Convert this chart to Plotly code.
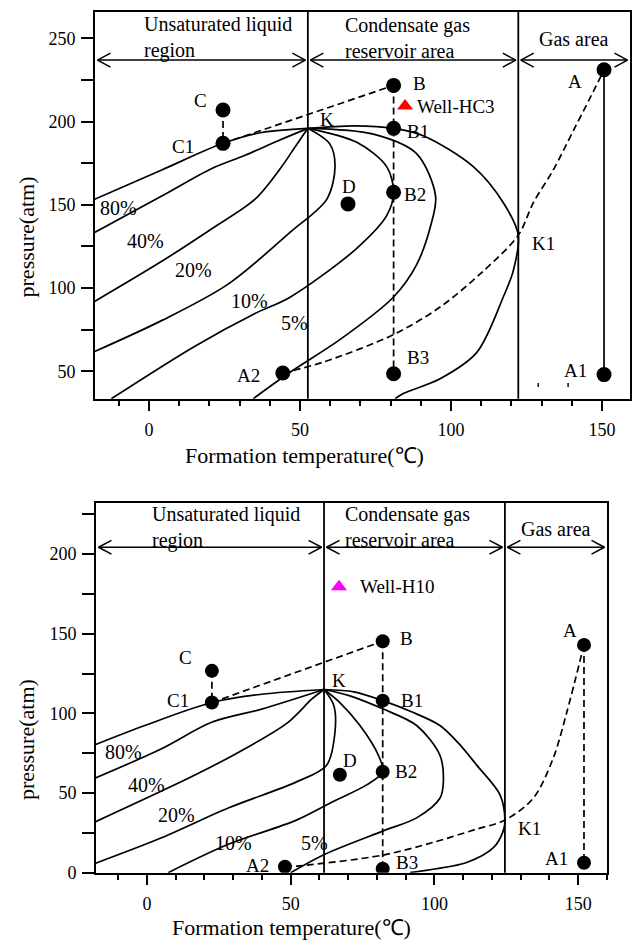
import plotly.graph_objects as go

W, H = 633, 946
SERIF = "Liberation Serif, 'Times New Roman', serif"
INK = "#000000"

# ---------------- upper diagram (Well-HC3) ----------------
TOP_T_RANGE = [-17.9, 159.3]
TOP_P_RANGE = [33.5, 266.0]
TOP_K = (52.6, 196.0)
TOP_K1 = (122.3, 131.8)

# iso-volume lines of the phase envelope: (temperature ℃, pressure atm)
TOP_Q100 = [(-18.5, 153.0), (4.2, 171.0), (24.5, 187.0), (37.3, 193.5), (52.6, 196.0)]
TOP_Q80 = [(-18.5, 133.0), (4.2, 155.3), (20.8, 171.9), (31.8, 179.8), (42.8, 188.6), (52.6, 196.0)]
TOP_Q40 = [(-18.5, 91.5), (4.2, 116.1), (20.8, 135.7), (35.1, 153.4), (43.9, 172.9), (48.3, 184.7), (52.6, 196.0)]
TOP_Q20 = [(-18.5, 61.5), (4.3, 80.6), (26.2, 102.4), (46.7, 133.5), (58.9, 153.5), (61.6, 173.0),
           (59.9, 186.5), (52.6, 196.0)]
TOP_Q10 = [(-12.5, 33.5), (15.2, 65.1), (35.1, 84.7), (46.7, 94.5), (68.8, 123.9), (78.7, 143.5),
           (81.0, 157.6), (78.7, 173.0), (68.8, 187.6), (52.6, 196.0)]
TOP_Q5 = [(34.5, 33.5), (46.7, 49.4), (63.2, 69.0), (80.9, 94.5), (88.6, 114.0), (93.3, 137.6),
          (94.9, 155.3), (88.6, 180.8), (74.3, 192.5), (52.6, 196.0)]
TOP_DEW = [(52.6, 196.0), (68.0, 197.5), (81.0, 196.0), (90.8, 191.6), (107.4, 173.0), (117.3, 151.4),
           (122.3, 131.8), (120.6, 110.2), (117.3, 94.5), (108.5, 61.2), (96.4, 45.5), (84.2, 36.6),
           (81.5, 33.5)]
TOP_PATH = [(44.3, 49.0), (57.7, 55.5), (80.9, 72.0), (96.4, 88.6), (110.7, 110.2), (122.3, 131.8),
            (127.3, 151.4), (133.9, 171.0), (140.5, 194.5), (146.0, 214.0), (150.7, 231.2)]
TOP_POINTS = {"A": (150.7, 231.2), "A1": (150.7, 48.0), "B": (81.0, 221.8), "B1": (81.0, 196.0),
              "B2": (81.0, 157.6), "B3": (81.0, 48.5), "C": (24.5, 207.0), "C1": (24.5, 187.0),
              "D": (65.9, 150.6), "A2": (44.3, 49.0)}
TOP_WELL = ("Well-HC3", 84.8, 209.4)
TOP_STUBS = [(128.9, 40.6, 42.9), (138.8, 40.6, 42.9)]
TOP_ARROW_P = 237.0
TOP_PCT = [("80%", -10.2, 148.4), ("40%", -1.3, 128.2), ("20%", 14.7, 110.6),
           ("10%", 33.4, 92.5), ("5%", 48.3, 78.8)]

# ---------------- lower diagram (Well-H10) ----------------
BOT_T_RANGE = [-17.7, 160.0]
BOT_P_RANGE = [0.0, 232.3]
BOT_K = (61.6, 115.0)
BOT_K1 = (124.5, 33.0)

BOT_Q100 = [(-18.5, 80.0), (-0.7, 92.4), (22.6, 106.8), (39.9, 112.0), (61.6, 115.0)]
BOT_Q80 = [(-18.5, 59.0), (5.1, 77.8), (22.5, 94.4), (39.9, 102.7), (61.6, 115.0)]
BOT_Q40 = [(-18.5, 31.5), (16.7, 61.3), (34.1, 77.8), (49.1, 94.4), (57.3, 108.9), (61.6, 115.0)]
BOT_Q20 = [(-18.5, 5.5), (5.1, 21.9), (28.3, 40.6), (52.0, 57.0), (62.5, 67.5), (65.4, 88.2),
           (65.0, 105.0), (61.6, 115.0)]
BOT_Q10 = [(7.4, 0.0), (28.3, 17.8), (52.0, 33.0), (64.8, 44.7), (76.4, 55.1), (82.0, 63.4),
           (80.5, 73.7), (74.1, 92.4), (67.1, 106.8), (61.6, 115.0)]
BOT_Q5 = [(50.0, 0.0), (61.9, 11.6), (82.0, 26.1), (93.8, 34.4), (101.9, 46.7), (103.1, 57.1),
          (101.9, 73.7), (93.8, 92.4), (82.2, 102.7), (70.6, 111.0), (61.6, 115.0)]
BOT_DEW = [(61.6, 115.0), (72.0, 113.5), (82.0, 108.0), (92.0, 101.0), (101.9, 92.4), (108.5, 81.0),
           (114.7, 67.5), (122.8, 48.9), (124.5, 33.0), (123.9, 26.1), (120.5, 15.7), (111.2, 6.4),
           (100.0, 2.3), (91.5, 0.0)]
BOT_PATH = [(48.0, 3.7), (53.2, 4.3), (82.0, 11.0), (99.5, 19.0), (114.0, 27.0), (124.5, 33.0),
            (134.3, 46.6), (141.2, 71.4), (146.0, 100.6), (152.0, 143.0)]
BOT_POINTS = {"A": (152.0, 143.0), "A1": (152.0, 6.2), "B": (82.0, 145.3), "B1": (82.0, 108.0),
              "B2": (82.0, 63.4), "B3": (82.0, 2.5), "C": (22.6, 126.7), "C1": (22.6, 106.8),
              "D": (67.1, 61.5), "A2": (48.0, 3.7)}
BOT_WELL = ("Well-H10", 66.8, 179.5)
BOT_ARROW_P = 204.3
BOT_PCT = [("80%", -8.2, 75.8), ("40%", -0.1, 55.1), ("20%", 10.3, 36.4),
           ("10%", 30.0, 18.8), ("5%", 58.4, 18.8)]

REGION_TEXT = ["Unsaturated liquid<br>region", "Condensate gas<br>reservoir area", "Gas area"]

# label placement (pixel offsets from each point)
TOP_SHIFT = {"A": (-29, -12), "A1": (-29, 4), "B": (26, 2), "B1": (24, -3), "B2": (21, -2),
             "B3": (24, 16), "C": (-23, 10), "C1": (-40, -3), "D": (1, 17), "A2": (-34, -3),
             "K": (19, 9), "K1": (25, -8)}
BOT_SHIFT = {"A": (-14, 14), "A1": (-27, 4), "B": (24, 3), "B1": (29, 0), "B2": (23, 0),
             "B3": (24, 6), "C": (-26, 13), "C1": (-34, 2), "D": (10, 14), "A2": (-27, 1),
             "K": (15, 9), "K1": (25, -8)}
WELL_SHIFT = {"Well-HC3": 10, "Well-H10": 19}

TOP_DOM_X = [95 / W, 630 / W]
TOP_DOM_Y = [1 - 403 / H, 1 - 12 / H]
BOT_DOM_X = [96 / W, 607 / W]
BOT_DOM_Y = [1 - 882 / H, 1 - 508 / H]

LW = 1.7
DASH = "7px,4px"
TXT = 20

fig = go.Figure()
annotations = []
shapes = []


def xy(pairs):
    return [p[0] for p in pairs], [p[1] for p in pairs]


def add_panel(ax, ay, dom_x, dom_y, t_rng, p_rng, k, k1, curves, dew, path, points, well, well_color,
              arrow_p, pcts, shifts, region_pos, a_line_dash, dot_size, stubs=()):
    xref, yref = ax, ay
    # scale factors, pixels -> data units
    ux = (t_rng[1] - t_rng[0]) / ((dom_x[1] - dom_x[0]) * W)
    uy = (p_rng[1] - p_rng[0]) / ((dom_y[1] - dom_y[0]) * H)

    def line(pairs, dash="solid", spline=True):
        xs, ys = xy(pairs)
        fig.add_trace(go.Scatter(
            x=xs, y=ys, mode="lines", xaxis=xref, yaxis=yref, hoverinfo="skip", showlegend=False,
            line=dict(color=INK, width=LW, dash=dash, shape="spline" if spline else "linear",
                      smoothing=0.9)))

    for c in curves:
        line(c)
    line(dew)
    line(path, dash=DASH)

    pa, pa1, pb, pb3 = points["A"], points["A1"], points["B"], points["B3"]
    line([points["C"], points["C1"]], dash=DASH, spline=False)
    line([points["C1"], pb], dash=DASH, spline=False)
    line([pb, pb3], dash=DASH, spline=False)
    line([pa, pa1], dash=a_line_dash, spline=False)
    for t, p0, p1 in stubs:
        fig.add_trace(go.Scatter(x=[t, t], y=[p0, p1], mode="lines", xaxis=xref, yaxis=yref,
                                 hoverinfo="skip", showlegend=False,
                                 line=dict(color=INK, width=1.4)))

    # region dividers at the critical point and the cricondentherm
    for tv in (k[0], k1[0]):
        shapes.append(dict(type="line", xref=xref, yref=f"{yref} domain", x0=tv, x1=tv, y0=0, y1=1,
                           line=dict(color=INK, width=1.8)))

    # double-headed arrows spanning each region
    bounds = [t_rng[0], k[0], k1[0], t_rng[1]]
    ax_x, ax_y = [], []
    gap = 2.5 * ux
    hl, hw = 13 * ux, 7 * uy
    for a, b in zip(bounds[:-1], bounds[1:]):
        l, r = a + gap, b - gap
        ax_x += [l, r, None, l + hl, l, l + hl, None, r - hl, r, r - hl, None]
        ax_y += [arrow_p, arrow_p, None, arrow_p + hw, arrow_p, arrow_p - hw, None,
                 arrow_p + hw, arrow_p, arrow_p - hw, None]
    fig.add_trace(go.Scatter(x=ax_x, y=ax_y, mode="lines", xaxis=xref, yaxis=yref, hoverinfo="skip",
                             showlegend=False, line=dict(color=INK, width=1.5)))

    # region captions
    for txt, (tx, ty, anchor) in zip(REGION_TEXT, region_pos):
        annotations.append(dict(text=txt, x=tx, y=ty, xref=xref, yref=yref, showarrow=False,
                                xanchor=anchor, yanchor="middle", align="left",
                                font=dict(family=SERIF, size=TXT, color=INK)))

    # state points
    names = list(points.keys())
    fig.add_trace(go.Scatter(
        x=[points[n][0] for n in names], y=[points[n][1] for n in names], mode="markers",
        xaxis=xref, yaxis=yref, hoverinfo="skip", showlegend=False,
        marker=dict(color=INK, size=dot_size, symbol="circle")))
    labelled = dict(points)
    labelled["K"] = k
    labelled["K1"] = k1
    for n, (dx, dy) in shifts.items():
        annotations.append(dict(text=n, x=labelled[n][0], y=labelled[n][1], xref=xref, yref=yref,
                                showarrow=False, xshift=dx, yshift=dy, xanchor="center",
                                yanchor="middle", font=dict(family=SERIF, size=19, color=INK)))

    # well marker
    wname, wt, wp = well
    fig.add_trace(go.Scatter(x=[wt], y=[wp], mode="markers", xaxis=xref, yaxis=yref,
                             hoverinfo="skip", showlegend=False,
                             marker=dict(color=well_color, size=14, symbol="triangle-up",
                                         line=dict(width=0))))
    annotations.append(dict(text=wname, x=wt, y=wp, xref=xref, yref=yref, showarrow=False,
                            xshift=WELL_SHIFT[wname], xanchor="left", yanchor="middle",
                            font=dict(family=SERIF, size=19, color=INK)))

    for txt, tx, ty in pcts:
        annotations.append(dict(text=txt, x=tx, y=ty, xref=xref, yref=yref, showarrow=False,
                                xanchor="center", yanchor="middle",
                                font=dict(family=SERIF, size=TXT, color=INK)))


add_panel("x", "y", TOP_DOM_X, TOP_DOM_Y, TOP_T_RANGE, TOP_P_RANGE, TOP_K, TOP_K1,
          [TOP_Q100, TOP_Q80, TOP_Q40, TOP_Q20, TOP_Q10, TOP_Q5], TOP_DEW, TOP_PATH, TOP_POINTS,
          TOP_WELL, "#ff0000", TOP_ARROW_P, TOP_PCT, TOP_SHIFT,
          [(-2.3, 250.6, "left"), (64.2, 250.0, "left"),
           ((TOP_K1[0] + TOP_T_RANGE[1]) / 2, 249.4, "center")],
          "solid", 15, TOP_STUBS)

add_panel("x2", "y2", BOT_DOM_X, BOT_DOM_Y, BOT_T_RANGE, BOT_P_RANGE, BOT_K, BOT_K1,
          [BOT_Q100, BOT_Q80, BOT_Q40, BOT_Q20, BOT_Q10, BOT_Q5], BOT_DEW, BOT_PATH, BOT_POINTS,
          BOT_WELL, "#ff00ff", BOT_ARROW_P, BOT_PCT, BOT_SHIFT,
          [(1.0, 217.0, "left"), (68.2, 216.8, "left"),
           ((BOT_K1[0] + BOT_T_RANGE[1]) / 2, 215.5, "center")],
          DASH, 14)

# axis titles
for ty, tx_title, ty_title in ((1 - 460 / H, 304 / W, 1 - 240 / H), (1 - 937 / H, 291 / W, 1 - 748 / H)):
    annotations.append(dict(text="Formation temperature(℃)", x=tx_title, y=ty, xref="paper",
                            yref="paper", showarrow=False, xanchor="center", yanchor="middle",
                            font=dict(family=SERIF, size=22, color=INK)))
    annotations.append(dict(text="pressure(atm)", x=26 / W, y=ty_title, xref="paper", yref="paper",
                            showarrow=False, textangle=-90, xanchor="center", yanchor="middle",
                            font=dict(family=SERIF, size=22, color=INK)))


def x_axis(dom, rng, anchor):
    return dict(domain=dom, range=rng, anchor=anchor, showgrid=False, zeroline=False,
                showline=True, mirror=True, linecolor=INK, linewidth=2,
                ticks="outside", ticklen=10, tickwidth=1.5, tickcolor=INK, tick0=0, dtick=50,
                minor=dict(ticks="outside", dtick=10, ticklen=5, tickwidth=1.5, tickcolor=INK),
                tickfont=dict(family=SERIF, size=18, color=INK), ticklabelstandoff=4)


def y_axis(dom, rng, anchor):
    return dict(domain=dom, range=rng, anchor=anchor, showgrid=False, zeroline=False,
                showline=True, mirror=True, linecolor=INK, linewidth=2,
                ticks="outside", ticklen=12, tickwidth=1.5, tickcolor=INK, tick0=0, dtick=50,
                minor=dict(ticks="outside", dtick=25, ticklen=12, tickwidth=1.5, tickcolor=INK),
                tickfont=dict(family=SERIF, size=18, color=INK), ticklabelstandoff=2)


fig.update_layout(
    width=W, height=H, margin=dict(l=0, r=0, t=0, b=0),
    paper_bgcolor="white", plot_bgcolor="white", showlegend=False,
    xaxis=x_axis(TOP_DOM_X, TOP_T_RANGE, "y"),
    yaxis=y_axis(TOP_DOM_Y, TOP_P_RANGE, "x"),
    xaxis2=x_axis(BOT_DOM_X, BOT_T_RANGE, "y2"),
    yaxis2=y_axis(BOT_DOM_Y, BOT_P_RANGE, "x2"),
    annotations=annotations, shapes=shapes,
)

fig.write_html("out.html")
